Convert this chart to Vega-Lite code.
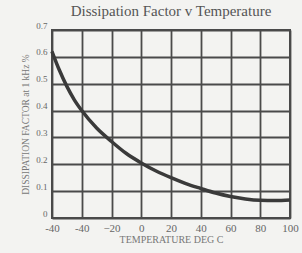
{
  "$schema": "https://vega.github.io/schema/vega-lite/v6.json",
  "width": 238,
  "height": 188,
  "autosize": {"type": "none"},
  "padding": {"left": 52, "top": 30, "right": 12, "bottom": 35},
  "background": "#f3f3f1",
  "title": {
    "text": "Dissipation Factor v Temperature",
    "font": "Liberation Serif",
    "fontSize": 15,
    "fontWeight": "normal",
    "color": "#555555",
    "offset": 2
  },
  "data": {
    "values": [
      {"t": -60, "df": 0.62},
      {"t": -55, "df": 0.55},
      {"t": -50, "df": 0.49},
      {"t": -45, "df": 0.44},
      {"t": -40, "df": 0.4},
      {"t": -30, "df": 0.335},
      {"t": -20, "df": 0.285},
      {"t": -10, "df": 0.24},
      {"t": 0, "df": 0.205},
      {"t": 10, "df": 0.175},
      {"t": 20, "df": 0.15},
      {"t": 30, "df": 0.128},
      {"t": 40, "df": 0.11},
      {"t": 50, "df": 0.093},
      {"t": 60, "df": 0.08},
      {"t": 70, "df": 0.071},
      {"t": 80, "df": 0.066},
      {"t": 90, "df": 0.065},
      {"t": 100, "df": 0.067}
    ]
  },
  "mark": {"type": "line", "interpolate": "monotone", "stroke": "#3a3a3a", "strokeWidth": 3.5},
  "encoding": {
    "x": {
      "field": "t",
      "type": "quantitative",
      "scale": {"domain": [-60, 100], "nice": false},
      "axis": {
        "values": [-60, -40, -20, 0, 20, 40, 60, 80, 100],
        "labelExpr": "datum.value == -60 ? '-40' : datum.value == -40 ? '-40' : datum.label",
        "title": "TEMPERATURE DEG C",
        "titleFont": "Liberation Serif",
        "titleFontSize": 10,
        "titleFontWeight": "normal",
        "titleColor": "#777777",
        "titlePadding": 1,
        "labelFont": "Liberation Serif",
        "labelFontSize": 11,
        "labelColor": "#666666",
        "labelPadding": 4,
        "labelFlush": false,
        "ticks": false,
        "grid": true,
        "gridColor": "#4a4a4a",
        "gridWidth": 1.8,
        "domain": false
      }
    },
    "y": {
      "field": "df",
      "type": "quantitative",
      "scale": {"domain": [0, 0.7], "nice": false},
      "axis": {
        "values": [0, 0.1, 0.2, 0.3, 0.4, 0.5, 0.6, 0.7],
        "labelExpr": "datum.value == 0 ? '0' : format(datum.value, '.1f')",
        "title": "DISSIPATION FACTOR at 1 kHz %",
        "titleFont": "Liberation Serif",
        "titleFontSize": 9.5,
        "titleFontWeight": "normal",
        "titleColor": "#777777",
        "titlePadding": 5,
        "labelFont": "Liberation Serif",
        "labelFontSize": 9,
        "labelColor": "#666666",
        "labelPadding": 5,
        "labelFlush": false,
        "labelBaseline": "bottom",
        "ticks": false,
        "grid": true,
        "gridColor": "#4a4a4a",
        "gridWidth": 1.8,
        "domain": false
      }
    }
  },
  "config": {
    "view": {"stroke": "#4a4a4a", "strokeWidth": 2}
  }
}
